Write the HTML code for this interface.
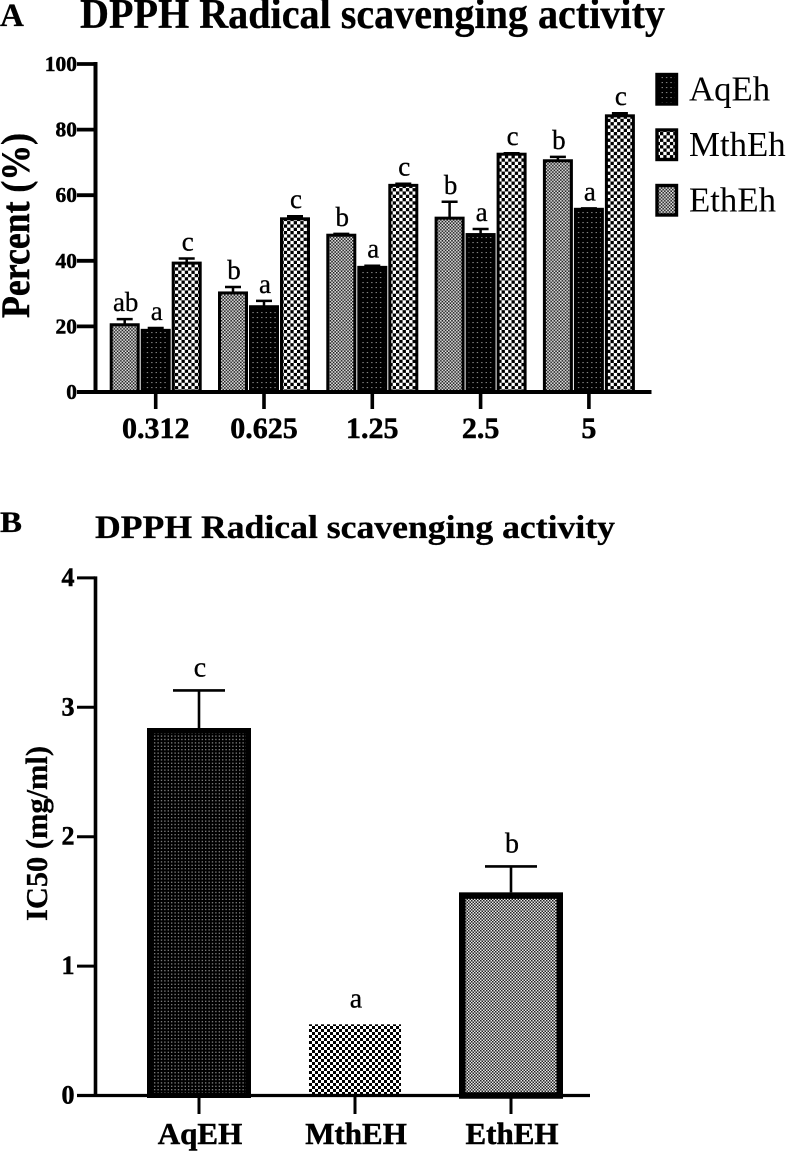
<!DOCTYPE html>
<html>
<head>
<meta charset="utf-8">
<title>DPPH Radical scavenging activity</title>
<style>
html,body{margin:0;padding:0;background:#fff;}
svg{display:block;font-family:"Liberation Serif",serif;}
</style>
</head>
<body>
<svg id="fig" xmlns="http://www.w3.org/2000/svg" width="787" height="1151" viewBox="0 0 787 1151">
<defs>
<pattern id="pA-aq" patternUnits="userSpaceOnUse" width="4.4" height="5"><rect width="4.4" height="5" fill="#000"/><rect x="1.6" y="2" width="1.3" height="1.1" fill="#8a8a8a"/></pattern>
<pattern id="pA-mth" patternUnits="userSpaceOnUse" width="6.6" height="6.6"><rect width="6.6" height="6.6" fill="#fff"/><rect width="3.3" height="3.3" fill="#000"/><rect x="3.3" y="3.3" width="3.3" height="3.3" fill="#000"/></pattern>
<pattern id="pA-eth" patternUnits="userSpaceOnUse" width="3.2" height="3.2"><rect width="3.2" height="3.2" fill="#e4e4e4"/><rect width="1.6" height="1.6" fill="#222"/><rect x="1.6" y="1.6" width="1.6" height="1.6" fill="#222"/></pattern>
<pattern id="pB-aq" patternUnits="userSpaceOnUse" width="3.4" height="3.4"><rect width="3.4" height="3.4" fill="#000"/><rect x="1.1" y="1.1" width="1.2" height="1.2" fill="#a0a0a0"/></pattern>
<pattern id="pB-mth" patternUnits="userSpaceOnUse" width="6" height="6"><rect width="6" height="6" fill="#fff"/><rect width="3" height="3" fill="#000"/><rect x="3" y="3" width="3" height="3" fill="#000"/></pattern>
<pattern id="pB-eth" patternUnits="userSpaceOnUse" width="3" height="3"><rect width="3" height="3" fill="#e8e8e8"/><rect width="1.5" height="1.5" fill="#222"/><rect x="1.5" y="1.5" width="1.5" height="1.5" fill="#222"/></pattern>
</defs>
</svg>
<script>
/* Chart A data */
const doseLabels = ["0.312", "0.625", "1.25", "2.5", "5"];
const percentTicks = [0, 20, 40, 60, 80, 100];
const ethValues = [20.5, 30.2, 47.8, 53, 70.5];
const ethErrors = [1.7, 1.8, 0.4, 5, 1.2];
const ethLetters = ["ab", "b", "b", "b", "b"];
const aqValues = [18.8, 26, 38, 48, 55.7];
const aqErrors = [0.7, 1.8, 0.5, 1.7, 0.3];
const aqLetters = ["a", "a", "a", "a", "a"];
const mthValues = [39.3, 52.8, 63, 72.5, 84.2];
const mthErrors = [1.4, 0.8, 0.5, 0.3, 0.8];
const mthLetters = ["c", "c", "c", "c", "c"];
const legendLabels = ["AqEh", "MthEh", "EthEh"];

/* Chart B data */
const extractLabels = ["AqEH", "MthEH", "EthEH"];
const ic50Ticks = [0, 1, 2, 3, 4];
const ic50Values = [2.84, 0.55, 1.57];
const ic50Errors = [0.29, 0, 0.2];
const ic50Letters = ["c", "a", "b"];

const svg = document.getElementById('fig');
const NS = 'http://www.w3.org/2000/svg';

function make(tag, attrs, parent) {
  const el = document.createElementNS(NS, tag);
  for (const k in attrs) el.setAttribute(k, attrs[k]);
  (parent || svg).appendChild(el);
  return el;
}
function label(str, attrs, parent) {
  const el = make('text', attrs, parent);
  el.textContent = str;
  return el;
}
const heavy = {stroke: '#000', 'stroke-width': 0.5};
const medium = {stroke: '#000', 'stroke-width': 0.3};

/* Panel letters and titles */
let t;
t = label('A', Object.assign({x: 0, y: 26, 'font-size': 33, 'font-weight': 'bold'}, medium));


t = label('DPPH Radical scavenging activity', Object.assign({x: 80, y: 28, 'font-size': 42, 'font-weight': 'bold', textLength: 585, lengthAdjust: 'spacingAndGlyphs'}, medium));


t = label('B', Object.assign({x: 0, y: 532, 'font-size': 30, 'font-weight': 'bold', textLength: 22, lengthAdjust: 'spacingAndGlyphs'}, medium));


t = label('DPPH Radical scavenging activity', Object.assign({x: 95, y: 538, 'font-size': 33, 'font-weight': 'bold', textLength: 520, lengthAdjust: 'spacingAndGlyphs'}, medium));



/* ---------- Chart A ---------- */
const gA = make('g', {});



const yA = v => 392 - v * 3.28;
const xA = i => 155.7 + i * 108.3;
const barW = 31;

const groupsA = [
  {key: 'eth', pat: 'url(#pA-eth)', vals: ethValues, errs: ethErrors, letters: ethLetters, off: -1},
  {key: 'aq', pat: 'url(#pA-aq)', vals: aqValues, errs: aqErrors, letters: aqLetters, off: 0},
  {key: 'mth', pat: 'url(#pA-mth)', vals: mthValues, errs: mthErrors, letters: mthLetters, off: 1}
];

groupsA.forEach(function (s) {
  s.vals.forEach(function (v, i) {
    const cx = xA(i) + s.off * barW;
    const top = yA(v);
    const capY = yA(v + s.errs[i]);
    const err = make('path', {d: 'M' + cx + ' ' + top + 'V' + capY + 'M' + (cx - 8) + ' ' + capY + 'H' + (cx + 8), stroke: '#000', 'stroke-width': 2.5, fill: 'none'}, gA);
    
    
    const bar = make('rect', {x: cx - 13.5, y: top, width: 27, height: 392 - top, fill: s.pat, stroke: '#000', 'stroke-width': 3}, gA);
    
    
    const letter = label(s.letters[i], Object.assign({x: cx + 1, y: capY - 8, 'font-size': 27, 'text-anchor': 'middle'}, medium), gA);
    
    
  });
});

const axisAY = make('path', {d: 'M95.5 ' + (yA(100) - 2) + 'V' + (yA(0) + 2), stroke: '#000', 'stroke-width': 4, fill: 'none'}, gA);


const axisAX = make('path', {d: 'M77 392H651.5', stroke: '#000', 'stroke-width': 4, fill: 'none'}, gA);



percentTicks.forEach(function (v) {
  const tick = make('path', {d: 'M77 ' + yA(v) + 'H95', stroke: '#000', 'stroke-width': 3.8}, gA);
  
  
  const lab = label(String(v), Object.assign({x: 77, y: yA(v) + 7, 'font-size': 21.5, 'font-weight': 'bold', 'text-anchor': 'end'}, heavy), gA);
  
  
});
doseLabels.forEach(function (d, i) {
  const tick = make('path', {d: 'M' + xA(i) + ' 392V409', stroke: '#000', 'stroke-width': 3.6}, gA);
  
  
  const lab = label(d, Object.assign({x: xA(i), y: 438, 'font-size': 30, 'font-weight': 'bold', 'text-anchor': 'middle'}, heavy), gA);
  
  
});

t = label('Percent (%)', Object.assign({x: 0, y: 0, transform: 'translate(29 318) rotate(-90)', 'font-size': 40, 'font-weight': 'bold', textLength: 185, lengthAdjust: 'spacingAndGlyphs'}, heavy), gA);



/* Legend */
const legendFills = ['url(#pA-aq)', 'url(#pA-mth)', 'url(#pA-eth)'];
legendLabels.forEach(function (name, i) {
  const top = 74.5 + i * 55.5;
  const sw = make('rect', {x: 657, y: top, width: 19.5, height: 29.5, fill: legendFills[i], stroke: '#000', 'stroke-width': 3.4}, gA);
  
  
  const lab = label(name, {x: 689, y: top + 26, 'font-size': 34.8}, gA);
  
  
});

/* ---------- Chart B ---------- */
const gB = make('g', {});



const yB = v => 1095.5 - v * 129.4;
const xB = i => 199 + i * 156;
const stylesB = [
  {pat: 'url(#pB-aq)', sw: 5, inset: 0},
  {pat: 'url(#pB-mth)', sw: 0, inset: 0},
  {pat: 'url(#pB-eth)', sw: 6.5, inset: 0}
];

ic50Values.forEach(function (v, i) {
  const cx = xB(i);
  const top = yB(v);
  const st = stylesB[i];
  const capY = yB(v + ic50Errors[i]);
  if (ic50Errors[i] > 0) {
    const err = make('path', {d: 'M' + cx + ' ' + top + 'V' + capY + 'M' + (cx - 26) + ' ' + capY + 'H' + (cx + 26), stroke: '#000', 'stroke-width': 2.6, fill: 'none'}, gB);
    
    
  }
  const half = 52 - (i === 1 ? 6 : 0);
  const bar = make('rect', {x: cx - half + st.sw / 2, y: top + st.sw / 2, width: 2 * half - st.sw, height: 1095.5 - top - st.sw / 2, fill: st.pat, stroke: st.sw ? '#000' : 'none', 'stroke-width': st.sw}, gB);
  
  
  const letter = label(ic50Letters[i], Object.assign({x: cx + 1, y: capY - (ic50Errors[i] > 0 ? 14 : 17), 'font-size': 28, 'text-anchor': 'middle'}, medium), gB);
  
  
});

const axisBY = make('path', {d: 'M95.5 ' + (yB(4) - 1.5) + 'V1097', stroke: '#000', 'stroke-width': 3.6, fill: 'none'}, gB);


const axisBX = make('path', {d: 'M77 1095.5H590', stroke: '#000', 'stroke-width': 3.2, fill: 'none'}, gB);



ic50Ticks.forEach(function (v) {
  const tick = make('path', {d: 'M77 ' + yB(v) + 'H95', stroke: '#000', 'stroke-width': 3}, gB);
  
  
  const lab = label(String(v), Object.assign({x: 74.5, y: yB(v) + 8, 'font-size': 26, 'font-weight': 'bold', 'text-anchor': 'end'}, heavy), gB);
  
  
});
extractLabels.forEach(function (name, i) {
  const tick = make('path', {d: 'M' + xB(i) + ' 1095.5V1114', stroke: '#000', 'stroke-width': 3}, gB);
  
  
  const lab = label(name, Object.assign({x: xB(i) + 1, y: 1144, 'font-size': 31, 'font-weight': 'bold', 'text-anchor': 'middle'}, heavy), gB);
  
  
});

t = label('IC50 (mg/ml)', Object.assign({x: 0, y: 0, transform: 'translate(47 921) rotate(-90)', 'font-size': 31, 'font-weight': 'bold', textLength: 175, lengthAdjust: 'spacingAndGlyphs'}, medium), gB);


</script>
</body>
</html>
